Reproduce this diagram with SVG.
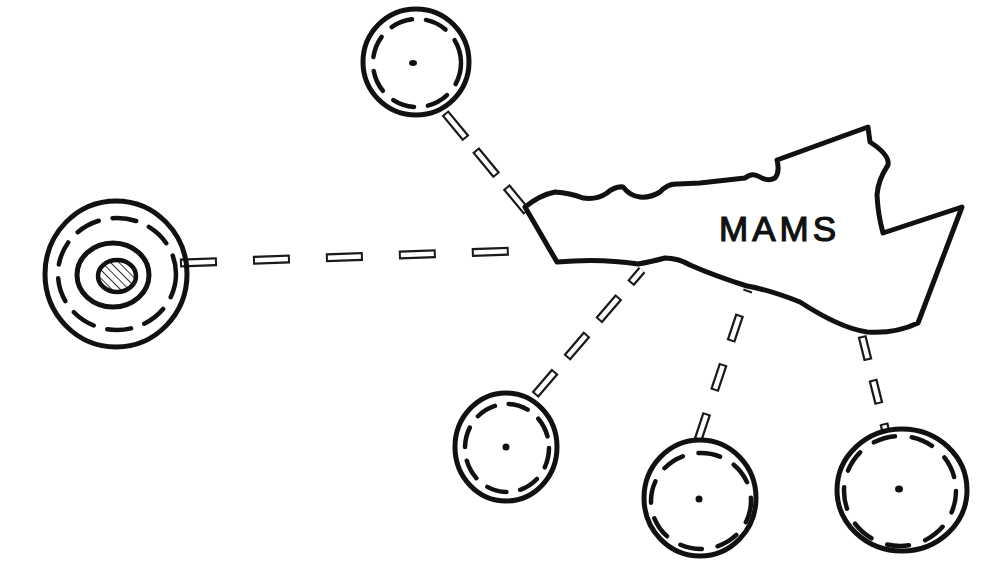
<svg xmlns="http://www.w3.org/2000/svg" width="989" height="567" viewBox="0 0 989 567">
  <defs>
    <pattern id="hatch" patternUnits="userSpaceOnUse" width="6" height="6" patternTransform="rotate(-45)">
      <rect width="6" height="6" fill="#ffffff"/>
      <line x1="0" y1="0" x2="0" y2="6" stroke="#333" stroke-width="2"/>
    </pattern>
  </defs>
  <style>
    .bo { stroke: #1a1a1a; stroke-width: 9; fill: none; }
    .bi { stroke: #ffffff; stroke-width: 4.5; fill: none; }
    .outer { fill: none; stroke: #111; stroke-width: 5; }
    .dash { fill: none; stroke: #111; stroke-width: 4.5; stroke-linecap: round; }
    .dot { fill: #111; }
    .label { font-family: "Liberation Sans", Arial, sans-serif; font-size: 35px; fill: #111; stroke: #111; stroke-width: 1.2; letter-spacing: 4px; }
  </style>
  <rect width="989" height="567" fill="#ffffff"/>

  <g id="connectors">
    <!-- left -->
    <line class="bo" x1="180" y1="263" x2="513" y2="251" stroke-dasharray="37 36"/>
    <line class="bi" x1="180" y1="263" x2="513" y2="251" stroke-dasharray="33 40" stroke-dashoffset="-2"/>
    <!-- top -->
    <line class="bo" x1="445" y1="113" x2="527" y2="212" stroke-dasharray="33 15"/>
    <line class="bi" x1="445" y1="113" x2="527" y2="212" stroke-dasharray="29 19" stroke-dashoffset="-2"/>
    <!-- bottom left -->
    <line class="bo" x1="535" y1="395" x2="642" y2="270" stroke-dasharray="31 18"/>
    <line class="bi" x1="535" y1="395" x2="642" y2="270" stroke-dasharray="27 22" stroke-dashoffset="-2"/>
    <!-- bottom middle -->
    <line class="bo" x1="698" y1="440" x2="748" y2="290" stroke-dasharray="28 24"/>
    <line class="bi" x1="698" y1="440" x2="748" y2="290" stroke-dasharray="24 28" stroke-dashoffset="-2"/>
    <!-- bottom right -->
    <line class="bo" x1="862" y1="336" x2="886" y2="432" stroke-dasharray="25 20"/>
    <line class="bi" x1="862" y1="336" x2="886" y2="432" stroke-dasharray="21 24" stroke-dashoffset="-2"/>
  </g>

  <g id="mams">
    <path fill="#ffffff" stroke="#111" stroke-width="5" stroke-linejoin="round"
      d="M525,207 Q540,195 555,192 Q570,193 583,198 Q597,200 607,193 Q615,186 623,187 Q630,196 640,197 Q650,198 660,192 Q668,183 678,184 L700,183 L745,178 Q752,172 760,177 Q768,182 775,178 Q780,172 777,160 L868,127 L870,142 Q890,155 888,165 Q878,180 877,195 Q878,215 883,233 L962,207 L918,323 Q895,334 867,332 Q840,328 800,302 Q770,290 747,286 Q715,276 690,265 Q678,258 665,258 Q650,262 638,264 Q600,258 557,262 Z"/>
    <text class="label" x="719" y="241">MAMS</text>
  </g>

  <g id="node-left">
    <ellipse class="outer" cx="116" cy="274" rx="71" ry="73"/>
    <ellipse class="dash" cx="117" cy="274" rx="59" ry="56" stroke-dasharray="24 14"/>
    <ellipse class="outer" cx="113" cy="275" rx="36" ry="32"/>
    <ellipse cx="117" cy="276" rx="19" ry="16" fill="url(#hatch)" stroke="#111" stroke-width="4.5"/>
  </g>

  <g id="node-top">
    <circle class="outer" cx="416" cy="62" r="53"/>
    <circle class="dash" cx="417" cy="63" r="44" stroke-dasharray="22 14"/>
    <ellipse class="dot" cx="413" cy="63" rx="4" ry="3"/>
  </g>

  <g id="node-bottom-left">
    <ellipse class="outer" cx="506" cy="447" rx="51" ry="54"/>
    <ellipse class="dash" cx="507" cy="448" rx="42" ry="44" stroke-dasharray="20 14"/>
    <circle class="dot" cx="506" cy="447" r="3.5"/>
  </g>

  <g id="node-bottom-middle">
    <ellipse class="outer" cx="700" cy="498" rx="56" ry="58"/>
    <ellipse class="dash" cx="701" cy="501" rx="50" ry="48" stroke-dasharray="22 16"/>
    <circle class="dot" cx="699" cy="499" r="3.5"/>
  </g>

  <g id="node-bottom-right">
    <ellipse class="outer" cx="902" cy="490" rx="65" ry="61"/>
    <ellipse class="dash" cx="900" cy="491" rx="56" ry="55" stroke-dasharray="22 17"/>
    <ellipse class="dot" cx="899" cy="489" rx="4" ry="3.5"/>
  </g>
</svg>
